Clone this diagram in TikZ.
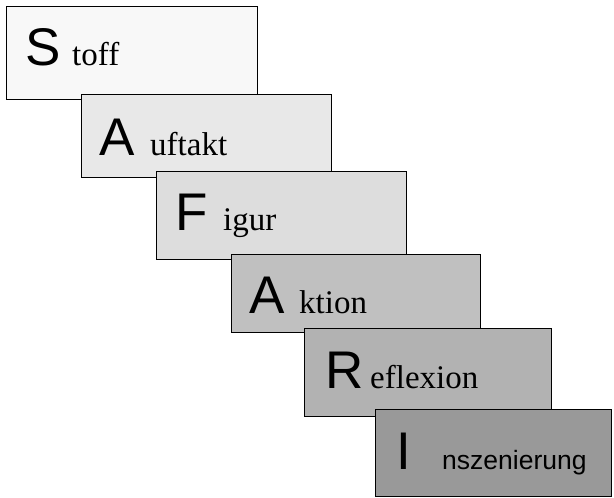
\documentclass[tikz,border=0pt]{standalone}
\usepackage{fontspec}
\setmainfont{Liberation Serif}
\newfontfamily\bigsans{Liberation Sans}
\begin{document}
\begin{tikzpicture}[x=1pt,y=-1pt,
  stepbox/.style={draw=black,line width=1.4pt,anchor=north west,inner sep=0pt},
  bigl/.style={anchor=base west,inner sep=0pt,font=\bigsans\fontsize{53}{53}\selectfont},
  rest/.style={anchor=base west,inner sep=0pt,font=\fontsize{33}{33}\selectfont},
  rests/.style={anchor=base west,inner sep=0pt,font=\bigsans\fontsize{26.5}{27}\selectfont}]
\useasboundingbox (0,0) rectangle (614,498);
\definecolor{c1}{HTML}{F8F8F8}
\definecolor{c2}{HTML}{E8E8E8}
\definecolor{c3}{HTML}{DDDDDD}
\definecolor{c4}{HTML}{C0C0C0}
\definecolor{c5}{HTML}{B2B2B2}
\definecolor{c6}{HTML}{999999}
\node[stepbox,fill=c1,minimum width=251pt,minimum height=93pt] (b1) at (6,6) {};
\node[stepbox,fill=c2,minimum width=250pt,minimum height=83pt] (b2) at (81,94) {};
\node[stepbox,fill=c3,minimum width=250pt,minimum height=88pt] (b3) at (156,171) {};
\node[stepbox,fill=c4,minimum width=249pt,minimum height=78pt] (b4) at (231,254) {};
\node[stepbox,fill=c5,minimum width=247pt,minimum height=88pt] (b5) at (304,328) {};
\node[stepbox,fill=c6,minimum width=236pt,minimum height=87pt] (b6) at (375,409) {};
\node[bigl] (l1) at (25,65) {S};
\node[rest] (t1) at (72,65) {toff};
\node[bigl] (l2) at (99,155) {A};
\node[rest] (t2) at (150,155) {uftakt};
\node[bigl] (l3) at (175,230) {F};
\node[rest] (t3) at (223,230) {igur};
\node[bigl] (l4) at (249,313) {A};
\node[rest] (t4) at (299,313) {ktion};
\node[bigl] (l5) at (325,388) {R};
\node[rest] (t5) at (370,388) {eflexion};
\node[bigl] (l6) at (396,469) {I};
\node[rests] (t6) at (442,469) {nszenierung};
\end{tikzpicture}
\end{document}
